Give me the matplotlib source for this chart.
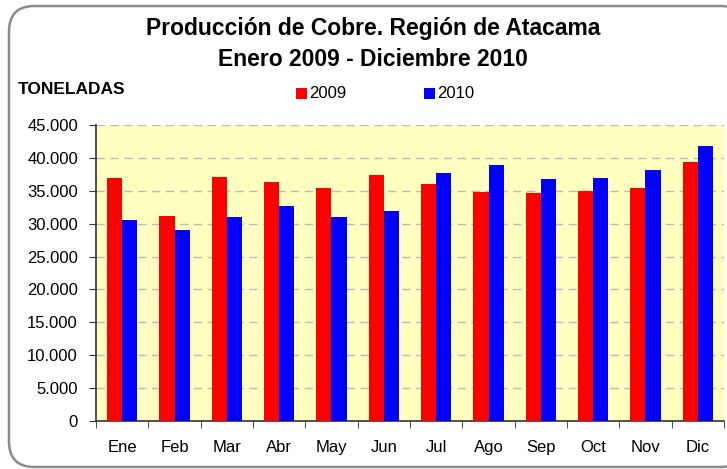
import numpy as np
import matplotlib
matplotlib.use("Agg")
import matplotlib.pyplot as plt
from matplotlib.patches import FancyBboxPatch, Rectangle
from matplotlib.ticker import FuncFormatter

plt.rcParams['font.family'] = ['Liberation Sans', 'DejaVu Sans']

meses = ['Ene', 'Feb', 'Mar', 'Abr', 'May', 'Jun', 'Jul', 'Ago', 'Sep', 'Oct', 'Nov', 'Dic']
prod_2009 = [36900, 31100, 37050, 36300, 35400, 37350, 36000, 34800, 34600, 34900, 35400, 39300]
prod_2010 = [30500, 29000, 31000, 32650, 31000, 32000, 37650, 38900, 36750, 36900, 38100, 41800]

W, H = 727, 469
fig = plt.figure(figsize=(W / 100, H / 100), dpi=100)

# borde redondeado del grafico
borde = FancyBboxPatch((9 / W, 2 / H), (W + 10) / W, (H - 8) / H,
                       boxstyle="round,pad=0,rounding_size=0.035",
                       mutation_aspect=W / H,
                       transform=fig.transFigure, facecolor='white',
                       edgecolor='#8C8C8C', linewidth=1.8, zorder=-5)
fig.patches.append(borde)

ax = fig.add_axes([96 / W, (H - 421) / H, (724 - 96) / W, (421 - 125) / H])
ax.set_facecolor('#FFFFC0')

x = np.arange(len(meses))
ancho = 0.29
ax.bar(x - ancho / 2, prod_2009, ancho, color='#FF0000', zorder=3)
ax.bar(x + ancho / 2, prod_2010, ancho, color='#0000FF', zorder=3)

ax.set_xlim(-0.5, len(meses) - 0.5)
ax.set_ylim(0, 45000)
ax.set_yticks(np.arange(0, 45001, 5000))
ax.yaxis.set_major_formatter(FuncFormatter(lambda v, p: '0' if v == 0 else f'{int(v):,}'.replace(',', '.')))
ax.grid(axis='y', color='#BBBBBB', linestyle=(0, (6, 4)), linewidth=1, zorder=1)

ax.set_xticks(x)
ax.set_xticklabels(meses)
ax.set_xticks(np.arange(-0.5, len(meses), 1), minor=True)
ax.tick_params(axis='x', which='major', length=0, pad=14, labelsize=12)
ax.tick_params(axis='x', which='minor', length=5, direction='out', color='#333333')
ax.tick_params(axis='y', length=5, direction='out', labelsize=12, pad=8, color='#333333')

for s in ['top', 'right']:
    ax.spines[s].set_visible(False)
for s in ['left', 'bottom']:
    ax.spines[s].set_color('#333333')
    ax.spines[s].set_linewidth(1.2)

fig.text(373 / W, 1 - 29 / H, 'Producción de Cobre. Región de Atacama', ha='center', va='center',
         fontsize=16.5, fontweight='bold')
fig.text(373 / W, 1 - 59 / H, 'Enero 2009 - Diciembre 2010', ha='center', va='center',
         fontsize=16.5, fontweight='bold')
fig.text(18 / W, 1 - 89 / H, 'TONELADAS', ha='left', va='center', fontsize=12.5, fontweight='bold')

# leyenda
for xs, col, lab in [(296, '#FF0000', '2009'), (424, '#0000FF', '2010')]:
    fig.patches.append(Rectangle((xs / W, (H - 99) / H), 11 / W, 11 / H, transform=fig.transFigure,
                                 facecolor=col, edgecolor='none'))
    fig.text((xs + 13) / W, 1 - 93 / H, lab, ha='left', va='center', fontsize=12)

fig.savefig('out.png', dpi=100)
